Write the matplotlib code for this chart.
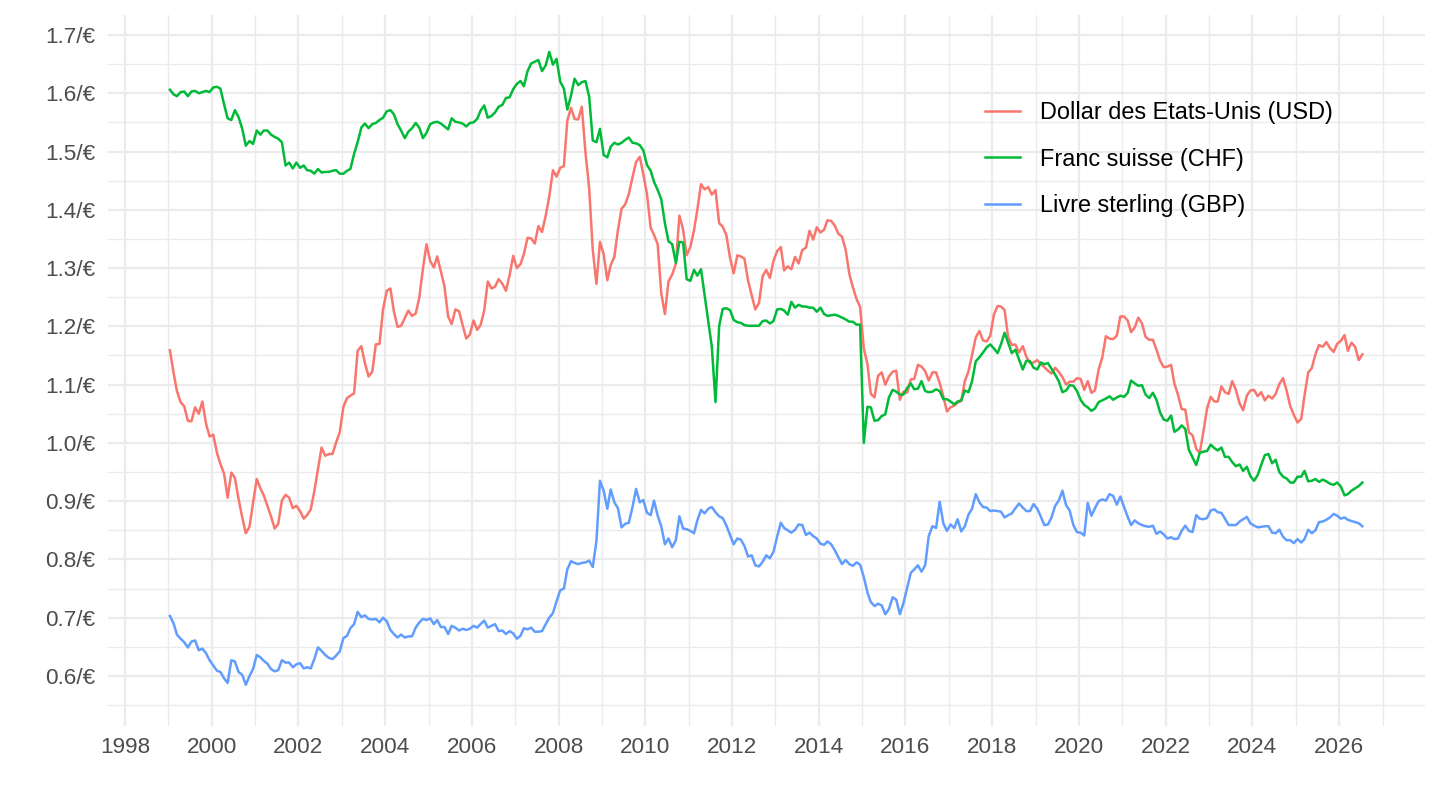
import matplotlib
matplotlib.use("Agg")
import matplotlib.pyplot as plt
import matplotlib.dates as mdates
from matplotlib.ticker import MultipleLocator, FuncFormatter
import pandas as pd

plt.rcParams["font.family"] = ["Liberation Sans", "DejaVu Sans"]

# monthly values, Jan 1999 -> Jul 2026 (1 euro = x units)
usd = [
    1.159, 1.120, 1.089, 1.070, 1.063, 1.038, 1.037, 1.061, 1.050, 1.071, 1.033, 1.011,  # 1999
    1.014, 0.983, 0.964, 0.947, 0.906, 0.949, 0.940, 0.904, 0.872, 0.845, 0.856, 0.897,  # 2000
    0.938, 0.922, 0.910, 0.892, 0.874, 0.853, 0.861, 0.901, 0.911, 0.906, 0.888, 0.892,  # 2001
    0.883, 0.870, 0.876, 0.886, 0.917, 0.955, 0.992, 0.978, 0.981, 0.981, 1.001, 1.018,  # 2002
    1.062, 1.077, 1.081, 1.085, 1.158, 1.166, 1.137, 1.114, 1.122, 1.169, 1.170, 1.229,  # 2003
    1.261, 1.265, 1.226, 1.199, 1.201, 1.214, 1.227, 1.218, 1.222, 1.249, 1.299, 1.341,  # 2004
    1.312, 1.301, 1.320, 1.294, 1.269, 1.217, 1.204, 1.229, 1.226, 1.202, 1.179, 1.186,  # 2005
    1.210, 1.194, 1.202, 1.227, 1.277, 1.265, 1.268, 1.281, 1.273, 1.261, 1.288, 1.321,  # 2006
    1.300, 1.307, 1.324, 1.352, 1.351, 1.342, 1.372, 1.362, 1.390, 1.423, 1.468, 1.457,  # 2007
    1.472, 1.475, 1.553, 1.575, 1.556, 1.555, 1.577, 1.498, 1.437, 1.332, 1.273, 1.345,  # 2008
    1.324, 1.279, 1.305, 1.319, 1.365, 1.402, 1.409, 1.427, 1.456, 1.482, 1.491, 1.461,  # 2009
    1.427, 1.369, 1.357, 1.341, 1.257, 1.221, 1.277, 1.289, 1.307, 1.390, 1.366, 1.322,  # 2010
    1.336, 1.365, 1.400, 1.444, 1.435, 1.439, 1.426, 1.434, 1.377, 1.371, 1.356, 1.318,  # 2011
    1.291, 1.322, 1.320, 1.316, 1.279, 1.253, 1.229, 1.240, 1.286, 1.297, 1.283, 1.312,  # 2012
    1.329, 1.336, 1.296, 1.303, 1.298, 1.319, 1.308, 1.331, 1.335, 1.364, 1.349, 1.370,  # 2013
    1.361, 1.366, 1.382, 1.381, 1.373, 1.359, 1.354, 1.332, 1.290, 1.267, 1.247, 1.233,  # 2014
    1.162, 1.135, 1.084, 1.078, 1.115, 1.121, 1.100, 1.114, 1.122, 1.124, 1.074, 1.088,  # 2015
    1.086, 1.109, 1.110, 1.134, 1.131, 1.123, 1.107, 1.121, 1.121, 1.103, 1.080, 1.054,  # 2016
    1.061, 1.064, 1.069, 1.072, 1.106, 1.123, 1.151, 1.181, 1.192, 1.176, 1.174, 1.184,  # 2017
    1.220, 1.235, 1.234, 1.228, 1.181, 1.168, 1.169, 1.155, 1.166, 1.148, 1.137, 1.138,  # 2018
    1.142, 1.135, 1.130, 1.124, 1.119, 1.129, 1.122, 1.113, 1.100, 1.105, 1.105, 1.111,  # 2019
    1.110, 1.091, 1.106, 1.086, 1.090, 1.126, 1.146, 1.183, 1.179, 1.178, 1.184, 1.217,  # 2020
    1.217, 1.210, 1.190, 1.198, 1.215, 1.205, 1.182, 1.177, 1.177, 1.160, 1.141, 1.130,  # 2021
    1.131, 1.134, 1.102, 1.082, 1.058, 1.057, 1.018, 1.013, 0.990, 0.983, 1.020, 1.059,  # 2022
    1.079, 1.071, 1.071, 1.097, 1.087, 1.084, 1.106, 1.091, 1.068, 1.056, 1.081, 1.090,  # 2023
    1.091, 1.080, 1.087, 1.073, 1.081, 1.076, 1.084, 1.101, 1.111, 1.090, 1.063, 1.048,  # 2024
    1.035, 1.041, 1.081, 1.121, 1.128, 1.152, 1.168, 1.165, 1.173, 1.163, 1.156, 1.170,  # 2025
    1.175, 1.185, 1.158, 1.172, 1.165, 1.142, 1.152,                                     # 2026
]

chf = [
    1.606, 1.598, 1.595, 1.602, 1.603, 1.595, 1.603, 1.604, 1.600, 1.602, 1.604, 1.602,  # 1999
    1.610, 1.611, 1.608, 1.581, 1.557, 1.554, 1.571, 1.559, 1.539, 1.510, 1.518, 1.513,  # 2000
    1.536, 1.529, 1.536, 1.536, 1.529, 1.525, 1.522, 1.516, 1.476, 1.481, 1.471, 1.481,  # 2001
    1.472, 1.476, 1.468, 1.467, 1.462, 1.470, 1.464, 1.465, 1.465, 1.467, 1.468, 1.462,  # 2002
    1.462, 1.467, 1.470, 1.496, 1.516, 1.541, 1.548, 1.540, 1.547, 1.549, 1.554, 1.558,  # 2003
    1.569, 1.571, 1.564, 1.547, 1.536, 1.523, 1.534, 1.540, 1.549, 1.541, 1.523, 1.532,  # 2004
    1.547, 1.550, 1.551, 1.548, 1.543, 1.538, 1.557, 1.551, 1.550, 1.548, 1.543, 1.549,  # 2005
    1.550, 1.556, 1.570, 1.579, 1.558, 1.561, 1.567, 1.577, 1.580, 1.592, 1.593, 1.607,  # 2006
    1.616, 1.621, 1.612, 1.638, 1.651, 1.654, 1.657, 1.638, 1.648, 1.671, 1.649, 1.659,  # 2007
    1.620, 1.608, 1.572, 1.596, 1.625, 1.614, 1.619, 1.621, 1.594, 1.519, 1.516, 1.539,  # 2008
    1.494, 1.490, 1.508, 1.515, 1.512, 1.515, 1.520, 1.524, 1.515, 1.514, 1.511, 1.502,  # 2009
    1.477, 1.467, 1.448, 1.434, 1.418, 1.377, 1.346, 1.341, 1.309, 1.345, 1.344, 1.281,  # 2010
    1.278, 1.297, 1.287, 1.298, 1.254, 1.209, 1.165, 1.070, 1.201, 1.230, 1.231, 1.228,  # 2011
    1.211, 1.207, 1.206, 1.202, 1.201, 1.201, 1.201, 1.201, 1.209, 1.210, 1.205, 1.209,  # 2012
    1.229, 1.230, 1.227, 1.220, 1.242, 1.232, 1.237, 1.234, 1.234, 1.232, 1.232, 1.225,  # 2013
    1.232, 1.221, 1.218, 1.219, 1.220, 1.218, 1.215, 1.212, 1.208, 1.208, 1.203, 1.203,  # 2014
    1.000, 1.062, 1.061, 1.038, 1.039, 1.046, 1.049, 1.078, 1.091, 1.088, 1.083, 1.083,  # 2015
    1.094, 1.102, 1.092, 1.093, 1.106, 1.089, 1.087, 1.088, 1.092, 1.089, 1.075, 1.075,  # 2016
    1.071, 1.066, 1.071, 1.073, 1.090, 1.087, 1.106, 1.140, 1.147, 1.155, 1.164, 1.169,  # 2017
    1.162, 1.154, 1.169, 1.189, 1.172, 1.154, 1.160, 1.143, 1.126, 1.141, 1.140, 1.129,  # 2018
    1.126, 1.138, 1.135, 1.137, 1.127, 1.117, 1.106, 1.087, 1.090, 1.099, 1.098, 1.089,  # 2019
    1.074, 1.065, 1.061, 1.055, 1.059, 1.070, 1.073, 1.076, 1.080, 1.074, 1.078, 1.081,  # 2020
    1.079, 1.086, 1.107, 1.102, 1.098, 1.099, 1.083, 1.077, 1.086, 1.074, 1.052, 1.040,  # 2021
    1.038, 1.047, 1.019, 1.023, 1.030, 1.024, 0.988, 0.975, 0.962, 0.983, 0.985, 0.986,  # 2022
    0.997, 0.991, 0.987, 0.992, 0.976, 0.976, 0.967, 0.960, 0.963, 0.952, 0.959, 0.943,  # 2023
    0.935, 0.945, 0.962, 0.979, 0.981, 0.965, 0.971, 0.950, 0.942, 0.939, 0.932, 0.932,  # 2024
    0.942, 0.942, 0.952, 0.934, 0.935, 0.938, 0.933, 0.937, 0.934, 0.930, 0.928, 0.932,  # 2025
    0.925, 0.910, 0.912, 0.918, 0.922, 0.926, 0.932,                                     # 2026
]

gbp = [
    0.703, 0.690, 0.671, 0.664, 0.658, 0.649, 0.659, 0.661, 0.644, 0.647, 0.639, 0.627,  # 1999
    0.618, 0.609, 0.607, 0.596, 0.588, 0.627, 0.625, 0.607, 0.602, 0.585, 0.600, 0.612,  # 2000
    0.636, 0.632, 0.626, 0.621, 0.612, 0.608, 0.610, 0.627, 0.623, 0.623, 0.615, 0.620,  # 2001
    0.622, 0.613, 0.615, 0.613, 0.629, 0.649, 0.643, 0.636, 0.631, 0.629, 0.635, 0.642,  # 2002
    0.665, 0.669, 0.682, 0.689, 0.710, 0.701, 0.704, 0.698, 0.697, 0.698, 0.692, 0.700,  # 2003
    0.694, 0.679, 0.672, 0.666, 0.671, 0.666, 0.668, 0.668, 0.683, 0.692, 0.698, 0.696,  # 2004
    0.699, 0.689, 0.696, 0.684, 0.684, 0.672, 0.686, 0.683, 0.678, 0.681, 0.679, 0.681,  # 2005
    0.686, 0.683, 0.689, 0.695, 0.683, 0.686, 0.689, 0.677, 0.678, 0.672, 0.677, 0.673,  # 2006
    0.664, 0.669, 0.682, 0.680, 0.683, 0.676, 0.676, 0.677, 0.689, 0.700, 0.708, 0.728,  # 2007
    0.747, 0.750, 0.783, 0.797, 0.794, 0.792, 0.794, 0.795, 0.798, 0.787, 0.831, 0.935,  # 2008
    0.918, 0.887, 0.920, 0.898, 0.888, 0.855, 0.861, 0.863, 0.890, 0.921, 0.898, 0.902,  # 2009
    0.880, 0.876, 0.901, 0.875, 0.857, 0.826, 0.836, 0.821, 0.833, 0.874, 0.853, 0.852,  # 2010
    0.849, 0.845, 0.867, 0.885, 0.879, 0.887, 0.890, 0.881, 0.874, 0.871, 0.858, 0.842,  # 2011
    0.826, 0.836, 0.834, 0.823, 0.805, 0.807, 0.790, 0.788, 0.796, 0.807, 0.802, 0.813,  # 2012
    0.839, 0.863, 0.854, 0.850, 0.846, 0.851, 0.860, 0.859, 0.842, 0.846, 0.840, 0.836,  # 2013
    0.827, 0.825, 0.831, 0.826, 0.816, 0.804, 0.792, 0.799, 0.792, 0.789, 0.795, 0.791,  # 2014
    0.770, 0.743, 0.727, 0.720, 0.724, 0.721, 0.706, 0.715, 0.735, 0.731, 0.706, 0.725,  # 2015
    0.751, 0.777, 0.783, 0.790, 0.779, 0.790, 0.840, 0.857, 0.854, 0.899, 0.862, 0.849,  # 2016
    0.860, 0.854, 0.869, 0.848, 0.857, 0.877, 0.887, 0.912, 0.898, 0.890, 0.889, 0.883,  # 2017
    0.884, 0.883, 0.882, 0.872, 0.876, 0.879, 0.888, 0.896, 0.889, 0.883, 0.883, 0.895,  # 2018
    0.887, 0.873, 0.859, 0.860, 0.872, 0.892, 0.901, 0.918, 0.893, 0.884, 0.859, 0.847,  # 2019
    0.846, 0.841, 0.897, 0.875, 0.888, 0.900, 0.903, 0.901, 0.912, 0.909, 0.894, 0.908,  # 2020
    0.890, 0.873, 0.859, 0.867, 0.862, 0.859, 0.857, 0.856, 0.858, 0.844, 0.848, 0.843,  # 2021
    0.836, 0.838, 0.835, 0.836, 0.849, 0.858, 0.849, 0.847, 0.876, 0.870, 0.869, 0.871,  # 2022
    0.884, 0.886, 0.881, 0.880, 0.870, 0.859, 0.859, 0.859, 0.865, 0.869, 0.873, 0.862,  # 2023
    0.858, 0.855, 0.856, 0.857, 0.857, 0.846, 0.845, 0.851, 0.839, 0.833, 0.833, 0.828,  # 2024
    0.835, 0.829, 0.835, 0.851, 0.845, 0.850, 0.864, 0.865, 0.868, 0.872, 0.878, 0.875,  # 2025
    0.870, 0.872, 0.868, 0.866, 0.864, 0.862, 0.857,                                     # 2026
]

labels = ["Dollar des Etats-Unis (USD)", "Franc suisse (CHF)", "Livre sterling (GBP)"]
colors = ["#F8766D", "#00BA38", "#619CFF"]

dates = pd.date_range("1999-01-01", "2026-07-01", freq="MS") + pd.Timedelta(days=14)

fig = plt.figure(figsize=(14.4, 8.1), dpi=100)
ax = fig.add_axes([0.0753, 0.1043, 0.9143, 0.8777])

for series, lab, col in zip([usd, chf, gbp], labels, colors):
    ax.plot(dates, series, color=col, lw=1.8, label=lab)

ax.set_xlim(pd.Timestamp("1997-08-15"), pd.Timestamp("2027-12-25"))
ax.set_ylim(0.515, 1.735)

ax.xaxis.set_major_locator(mdates.YearLocator(2))
ax.xaxis.set_minor_locator(mdates.YearLocator(1))
ax.xaxis.set_major_formatter(mdates.DateFormatter("%Y"))
ax.yaxis.set_major_locator(MultipleLocator(0.1))
ax.yaxis.set_minor_locator(MultipleLocator(0.05))
ax.yaxis.set_major_formatter(FuncFormatter(lambda v, p: f"{v:.1f}/€"))

ax.grid(which="major", color="#EBEBEB", lw=1.6)
ax.grid(which="minor", color="#EBEBEB", lw=1.0)
ax.set_axisbelow(True)
for s in ax.spines.values():
    s.set_visible(False)
ax.tick_params(which="both", length=0)
ax.tick_params(axis="x", labelsize=16.2, labelcolor="#4D4D4D", pad=8)
ax.tick_params(axis="y", labelsize=16.2, labelcolor="#4D4D4D", pad=9.5)

ax.legend(loc="upper left", bbox_to_anchor=(0.6658, 0.878), frameon=False,
          fontsize=16.9, handlelength=1.49, handletextpad=0.85, labelspacing=0.99,
          borderpad=0, borderaxespad=0)

fig.savefig("out.png", dpi=100)
